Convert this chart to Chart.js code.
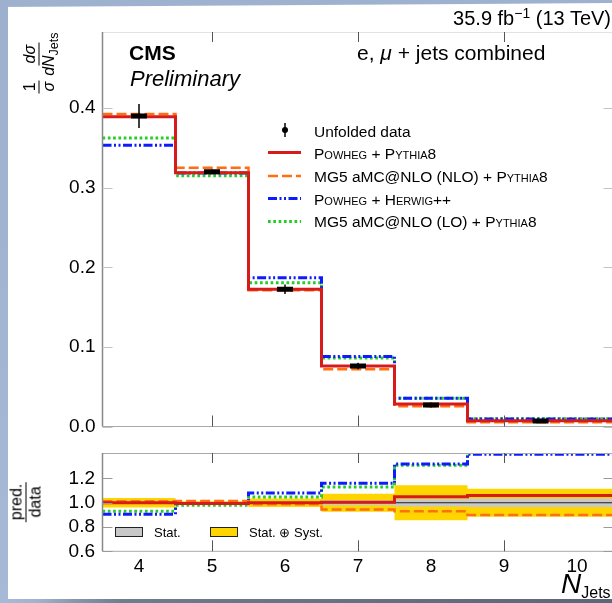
<!DOCTYPE html>
<html>
<head>
<meta charset="utf-8">
<script src="https://cdn.jsdelivr.net/npm/chart.js@4.4.1/dist/chart.umd.min.js"></script>
<style>
  html, body { margin: 0; padding: 0; background: #fff; }
  #page { position: relative; width: 612px; height: 603px; overflow: hidden; background: #fff;
          font-family: "Liberation Sans", Arial, sans-serif; color: #000; }
  canvas { position: absolute; left: 0; }
  .t { position: absolute; white-space: nowrap; line-height: 1; }
  .sc { font-variant: small-caps; }
  .frac { display: inline-flex; flex-direction: column; align-items: center; vertical-align: middle; margin: 0 1px; }
  .num { border-bottom: 1px solid #000; padding: 0 2px 1px; line-height: 1; }
  .den { padding: 1px 2px 0; line-height: 1; }
  .box { position: absolute; border: 1px solid #222; box-sizing: border-box; }
  .strip { position: absolute; z-index: 10; }
</style>
</head>
<body>
<div id="page">
  <canvas id="mainChart" width="680" height="470" style="top:0"></canvas>
  <canvas id="ratioChart" width="680" height="183" style="top:420px"></canvas>

  <!-- header and labels -->
  <div class="t" style="right:1px; top:8px; font-size:20px;">35.9 fb<span style="font-size:14px; position:relative; top:-7px;">−1</span> (13 TeV)</div>
  <div class="t" style="left:129px; top:42px; font-size:21px; font-weight:bold;">CMS</div>
  <div class="t" style="left:130px; top:67.5px; font-size:22px; font-style:italic;">Preliminary</div>
  <div class="t" style="left:357px; top:42px; font-size:21px;">e, <i>μ</i> + jets combined</div>

  <!-- legend entries -->
  <div class="t" style="left:314px; top:123.6px; font-size:15.5px;">Unfolded data</div>
  <div class="t" style="left:314px; top:146.2px; font-size:15.5px;"><span class="sc">Powheg</span> + <span class="sc">Pythia8</span></div>
  <div class="t" style="left:314px; top:169px; font-size:15.5px;">MG5 aMC@NLO (NLO) + <span class="sc">Pythia8</span></div>
  <div class="t" style="left:314px; top:191.5px; font-size:15.5px;"><span class="sc">Powheg</span> + <span class="sc">Herwig++</span></div>
  <div class="t" style="left:314px; top:214.1px; font-size:15.5px;">MG5 aMC@NLO (LO) + <span class="sc">Pythia8</span></div>

  <!-- ratio legend -->
  <div class="box" style="left:115px; top:527px; width:28px; height:10px; background:#c8c8c8;"></div>
  <div class="t" style="left:154px; top:525.7px; font-size:13px;">Stat.</div>
  <div class="box" style="left:210px; top:527px; width:28px; height:10px; background:#ffd500;"></div>
  <div class="t" style="left:249px; top:525.7px; font-size:13px;">Stat. ⊕ Syst.</div>

  <!-- axis titles -->
  <div class="t" style="left:39px; top:62px; font-size:16px; transform:translate(-50%,-50%) rotate(-90deg);">
    <span class="frac"><span class="num">1</span><span class="den"><i>σ</i></span></span><span class="frac"><span class="num"><i>dσ</i></span><span class="den"><i>dN</i><span style="font-size:12.5px; position:relative; top:4px;">Jets</span></span></span>
  </div>
  <div class="t" style="left:26px; top:502px; font-size:16px; transform:translate(-50%,-50%) rotate(-90deg);">
    <span class="frac"><span class="num">pred.</span><span class="den">data</span></span>
  </div>
  <div class="t" style="left:561px; top:569.6px; font-size:28px;"><i>N</i><span style="font-size:16px; position:relative; top:5px;">Jets</span></div>

  <!-- window edges -->
  <div class="strip" style="left:0; top:0; width:612px; height:8px; background:#9eb2cf; clip-path:polygon(0 0,100% 0,100% 3px,0 7px);"></div>
  <div class="strip" style="left:0; top:0; width:8px; height:603px; background:linear-gradient(180deg,#9db1ce,#a6bad7);"></div>
  <div class="strip" style="left:0; top:599px; width:612px; height:4px; background:linear-gradient(90deg,#a6bad7 0%,#a0b3cf 6%,#8797ad 12%,#6e7c8f 20%,#5b6676 100%);"></div>
</div>

<script>
// Binning in number of jets; the last bin collects 9 and more jets.
const binEdges   = [3.5, 4.5, 5.5, 6.5, 7.5, 8.5, 10.5];
const binCenters = [4, 5, 6, 7, 8, 9.5];
const xTickValues = [4, 5, 6, 7, 8, 9, 10];
const xTickMarks  = [5, 7, 9];
const yTicksMain  = [0, 0.1, 0.2, 0.3, 0.4];
const yTicksRatio = [0.6, 0.8, 1.0, 1.2];

// Normalised differential cross section, 1/sigma dsigma/dN_Jets
const unfoldedData    = [0.390, 0.320, 0.1724, 0.0760, 0.0270, 0.0068];
const unfoldedDataErr = [0.015, 0.003, 0.006, 0.004, 0.003, 0.001];
const powhegPythia8   = [0.389, 0.3188, 0.1724, 0.0760, 0.0283, 0.0072];
const mg5NloPythia8   = [0.3926, 0.325, 0.1712, 0.0719, 0.0254, 0.0052];
const powhegHerwig    = [0.3533, 0.3186, 0.1870, 0.0880, 0.0356, 0.0093];
const mg5LoPythia8    = [0.3624, 0.3151, 0.1807, 0.0859, 0.0354, 0.0097];

// Prediction / data
const ratioPowhegPythia8 = [1.000, 0.993, 1.000, 1.005, 1.050, 1.060];
const ratioMg5NloPythia8 = [1.012, 1.015, 0.988, 0.945, 0.930, 0.900];
const ratioPowhegHerwig  = [0.905, 0.993, 1.080, 1.160, 1.320, 1.400];
const ratioMg5LoPythia8  = [0.930, 0.980, 1.048, 1.130, 1.310, 1.450];

// Relative uncertainties of the measurement
const statUnc  = [0.010, 0.005, 0.010, 0.020, 0.030, 0.035];
const totalUnc = [0.040, 0.012, 0.035, 0.075, 0.145, 0.115];

const STYLES = {
  powhegPythia8: { color: '#d71a1a', width: 3,   dash: [] },
  mg5Nlo:        { color: '#ff6f10', width: 2.5, dash: [10, 4] },
  powhegHerwig:  { color: '#0c1cff', width: 3,   dash: [9, 2.5, 2, 2.5, 2, 2.5] },
  mg5Lo:         { color: '#22cf22', width: 3,   dash: [2.7, 2.6] },
};

Chart.defaults.font.family = "'Liberation Sans', Arial, sans-serif";
Chart.defaults.color = '#000';

// Histogram outline: horizontal run over each bin, vertical jumps at edges.
function stepPoints(vals) {
  const pts = [];
  vals.forEach((v, i) => {
    pts.push({ x: binEdges[i], y: v });
    pts.push({ x: binEdges[i + 1], y: v });
  });
  return pts;
}

function histLine(label, vals, st) {
  return {
    type: 'line', label, data: stepPoints(vals),
    borderColor: st.color, borderWidth: st.width, borderDash: st.dash,
    borderCapStyle: 'butt', borderJoinStyle: 'miter',
    pointRadius: 0, fill: false, tension: 0,
  };
}

function strokeLine(ctx, x1, y1, x2, y2, color, width) {
  ctx.beginPath();
  ctx.strokeStyle = color;
  ctx.lineWidth = width || 1;
  ctx.moveTo(x1, y1);
  ctx.lineTo(x2, y2);
  ctx.stroke();
}

function drawFrame(chart, opt) {
  const { ctx, chartArea: a, scales: { x, y } } = chart;
  ctx.save();
  ctx.setLineDash([]);
  strokeLine(ctx, a.left, a.top + 0.5, a.right, a.top + 0.5, opt.top, 1);
  strokeLine(ctx, a.left, a.bottom, a.right, a.bottom, opt.bottom, 1);
  strokeLine(ctx, a.left, a.top, a.left, a.bottom, opt.left, 1.5);
  xTickMarks.forEach(v => {
    const px = Math.round(x.getPixelForValue(v)) + 0.5;
    strokeLine(ctx, px, a.top, px, a.top + 10, '#555', 1);
    strokeLine(ctx, px, a.bottom, px, a.bottom - 11, '#555', 1);
  });
  opt.yTicks.forEach(v => {
    const py = Math.round(y.getPixelForValue(v)) + 0.5;
    strokeLine(ctx, a.left, py, a.left + 10, py, opt.tick, 1);
    strokeLine(ctx, a.right - 10, py, a.right, py, opt.tick, 1);
  });
  ctx.restore();
}

const fixedYWidth = s => { s.width = 102.5; };

const mainDecor = {
  id: 'mainDecor',
  afterDatasetsDraw(chart) {
    const { ctx, scales: { x, y } } = chart;
    ctx.save();
    ctx.setLineDash([]);
    unfoldedData.forEach((v, i) => {
      const px = x.getPixelForValue(binCenters[i]);
      strokeLine(ctx, px, y.getPixelForValue(v - unfoldedDataErr[i]),
                 px, y.getPixelForValue(v + unfoldedDataErr[i]), '#000', 1.5);
    });
    ctx.restore();
  },
  afterDraw(chart) {
    drawFrame(chart, { top: '#e2e2e2', bottom: '#a8a8a8', left: '#888', tick: '#c4c4c4', yTicks: yTicksMain });
    const ctx = chart.ctx;
    ctx.save();
    // legend samples
    strokeLine(ctx, 285, 123, 285, 137, '#000', 1.5);
    ctx.beginPath(); ctx.fillStyle = '#000'; ctx.arc(285, 130, 3, 0, Math.PI * 2); ctx.fill();
    const rows = [
      [STYLES.powhegPythia8, 152.5],
      [STYLES.mg5Nlo, 176],
      [STYLES.powhegHerwig, 198.5],
      [STYLES.mg5Lo, 221.5],
    ];
    rows.forEach(([st, yy]) => {
      ctx.setLineDash(st.dash);
      ctx.lineCap = 'butt';
      strokeLine(ctx, 268, yy, 301, yy, st.color, st.width);
    });
    ctx.restore();
  }
};

new Chart(document.getElementById('mainChart'), {
  type: 'line',
  data: {
    datasets: [
      {
        type: 'line', label: 'Unfolded data', showLine: false,
        data: binCenters.map((c, i) => ({ x: c, y: unfoldedData[i] })),
        pointStyle: 'line', pointRadius: 8, pointBorderWidth: 5,
        pointBorderColor: '#000', pointBackgroundColor: '#000', pointHoverRadius: 8,
      },
      histLine('Powheg + Pythia8', powhegPythia8, STYLES.powhegPythia8),
      histLine('MG5 aMC@NLO (NLO) + Pythia8', mg5NloPythia8, STYLES.mg5Nlo),
      histLine('Powheg + Herwig++', powhegHerwig, STYLES.powhegHerwig),
      histLine('MG5 aMC@NLO (LO) + Pythia8', mg5LoPythia8, STYLES.mg5Lo),
    ]
  },
  options: {
    responsive: false, animation: false, devicePixelRatio: 1,
    layout: { padding: { top: 32, bottom: 43.5, left: 0, right: 66.5 } },
    plugins: { legend: { display: false }, tooltip: { enabled: false } },
    events: [],
    scales: {
      x: { type: 'linear', min: 3.5, max: 10.5, display: false },
      y: {
        type: 'linear', min: 0, max: 0.4956,
        afterFit: fixedYWidth,
        afterBuildTicks: s => { s.ticks = yTicksMain.map(v => ({ value: v })); },
        grid: { display: false, drawTicks: false },
        border: { display: false },
        ticks: { padding: 7, font: { size: 19 }, color: '#000', callback: v => v.toFixed(1) },
      }
    }
  },
  plugins: [mainDecor]
});

const ratioDecor = {
  id: 'ratioDecor',
  afterDraw(chart) {
    drawFrame(chart, { top: '#a8a8a8', bottom: '#a8a8a8', left: '#888', tick: '#9a9a9a', yTicks: yTicksRatio });
  }
};

function band(vals, fill, color) {
  return {
    type: 'line', data: stepPoints(vals), fill, backgroundColor: color,
    borderColor: 'rgba(0,0,0,0)', borderWidth: 0, pointRadius: 0, tension: 0,
  };
}

new Chart(document.getElementById('ratioChart'), {
  type: 'line',
  data: {
    datasets: [
      histLine('Powheg + Pythia8', ratioPowhegPythia8, STYLES.powhegPythia8),
      histLine('MG5 aMC@NLO (NLO) + Pythia8', ratioMg5NloPythia8, STYLES.mg5Nlo),
      histLine('Powheg + Herwig++', ratioPowhegHerwig, STYLES.powhegHerwig),
      histLine('MG5 aMC@NLO (LO) + Pythia8', ratioMg5LoPythia8, STYLES.mg5Lo),
      {
        type: 'line', data: [{ x: binEdges[0], y: 1 }, { x: binEdges[binEdges.length - 1], y: 1 }],
        borderColor: '#222', borderWidth: 1, pointRadius: 0, fill: false,
      },
      band(statUnc.map(u => 1 + u), '+1', '#c8c8c8'),
      band(statUnc.map(u => 1 - u), false, 'rgba(0,0,0,0)'),
      band(totalUnc.map(u => 1 + u), '+1', '#ffd500'),
      band(totalUnc.map(u => 1 - u), false, 'rgba(0,0,0,0)'),
    ]
  },
  options: {
    responsive: false, animation: false, devicePixelRatio: 1,
    layout: { padding: { top: 33, bottom: 0, left: 0, right: 66.5 } },
    plugins: { legend: { display: false }, tooltip: { enabled: false } },
    events: [],
    scales: {
      x: {
        type: 'linear', min: 3.5, max: 10.5,
        afterFit: s => { s.height = 51.7; },
        afterBuildTicks: s => { s.ticks = xTickValues.map(v => ({ value: v })); },
        grid: { display: false, drawTicks: false },
        border: { display: false },
        ticks: { padding: 3.8, autoSkip: false, maxRotation: 0, font: { size: 19 }, color: '#000',
                 callback: v => String(v) },
      },
      y: {
        type: 'linear', min: 0.6, max: 1.41,
        afterFit: fixedYWidth,
        afterBuildTicks: s => { s.ticks = yTicksRatio.map(v => ({ value: v })); },
        grid: { display: false, drawTicks: false },
        border: { display: false },
        ticks: { padding: 7.5, font: { size: 19 }, color: '#000', callback: v => v.toFixed(1) },
      }
    }
  },
  plugins: [ratioDecor]
});
</script>
</body>
</html>
